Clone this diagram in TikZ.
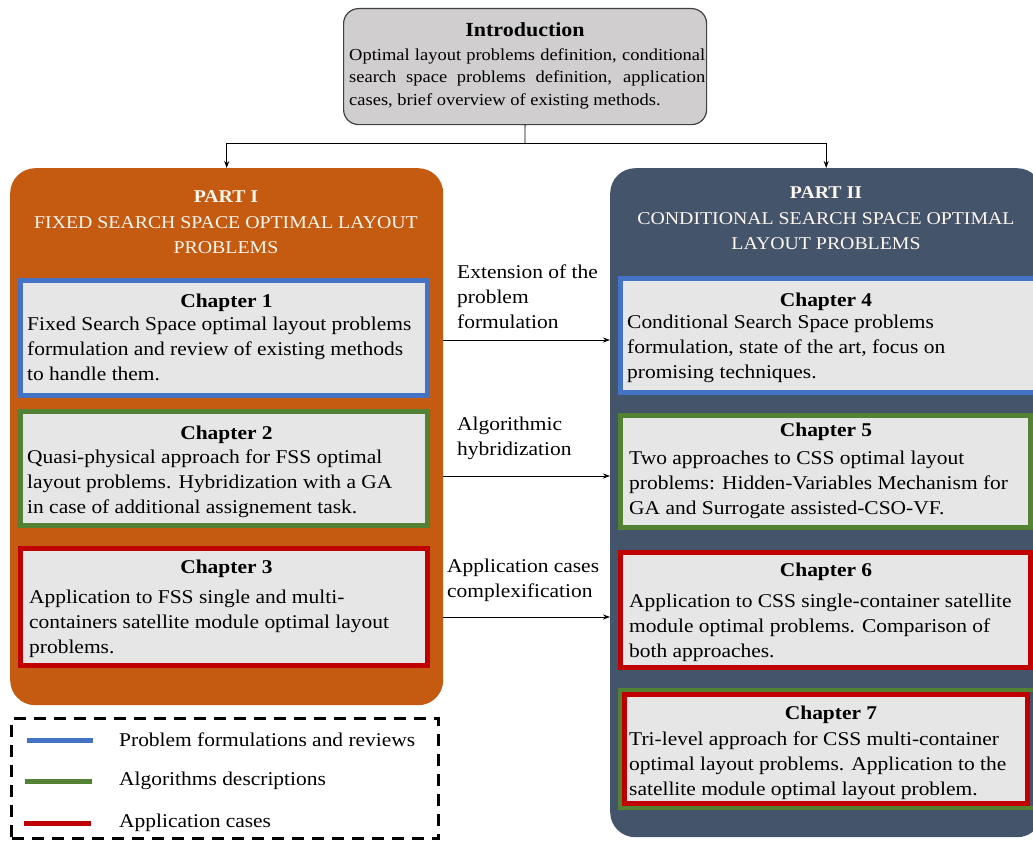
\documentclass[tikz,border=0pt]{standalone}
\usepackage{fontspec}
\setmainfont{Liberation Serif}[FakeStretch=1.1]
\usetikzlibrary{arrows.meta}
\definecolor{partorange}{HTML}{C55A11}
\definecolor{partslate}{HTML}{44546A}
\definecolor{cblue}{HTML}{4472C4}
\definecolor{cgreen}{HTML}{548235}
\definecolor{cred}{HTML}{C00000}
\definecolor{chapfill}{HTML}{E7E6E6}
\definecolor{introfill}{HTML}{D0CECE}
\definecolor{introline}{HTML}{404040}
\definecolor{titlewhite}{HTML}{FFF8F0}
\newcommand\bodyfs{\fontsize{19.5}{25}\selectfont}
\newcommand\introfs{\fontsize{16.8}{22.5}\selectfont}
\newcommand\partfs{\fontsize{18}{25}\selectfont}
\begin{document}
\begin{tikzpicture}[x=1pt,y=-1pt,
  partbox/.style={anchor=north west,rounded corners=25pt,inner sep=0pt,draw=none},
  chapbox/.style={anchor=north west,fill=chapfill,line width=5pt,inner sep=0pt},
  chaptitle/.style={anchor=base,font=\bodyfs\bfseries,inner sep=0pt},
  chaptext/.style={anchor=west,align=left,font=\bodyfs,inner sep=0pt},
  parttitle/.style={anchor=base,align=center,font=\partfs,text=titlewhite,inner sep=0pt},
  arrlabel/.style={anchor=west,align=left,font=\bodyfs,inner sep=0pt},
  arr/.style={-{Stealth[length=7pt,width=5pt]},line width=0.8pt},
  legline/.style={line width=5pt},
  legtext/.style={anchor=west,font=\bodyfs,inner sep=0pt}]
\useasboundingbox (0,0) rectangle (1033,843);
\clip (0,0) rectangle (1033,843);

% Introduction
\node[anchor=north west,fill=introfill,draw=introline,line width=1.2pt,rounded corners=15pt,
  minimum width=363pt,minimum height=116pt,inner sep=0pt] (intro) at (343,8) {};
\node[anchor=base,font=\fontsize{20}{24}\selectfont\bfseries,inner sep=0pt] (introtitle) at (525,37) {Introduction};
\node[anchor=west,align=left,font=\introfs,inner sep=0pt] (introtext) at (349,78.5)
  {\makebox[356pt][s]{Optimal layout problems definition, conditional}\\
   \makebox[356pt][s]{search space problems definition, application}\\
   cases, brief overview of existing methods.};

% Parts
\node[partbox,fill=partorange,minimum width=433pt,minimum height=537pt] (p1) at (10,168) {};
\node[partbox,fill=partslate,minimum width=432pt,minimum height=669pt] (p2) at (610,168) {};

\node[anchor=base,font=\partfs\bfseries,text=titlewhite,inner sep=0pt] (p1head) at (226,202) {PART I};
\node[parttitle] (p1name) at (226,228) {FIXED SEARCH SPACE OPTIMAL LAYOUT};
\node[parttitle] (p1name2) at (226,253) {PROBLEMS};
\node[anchor=base,font=\partfs\bfseries,text=titlewhite,inner sep=0pt] (p2head) at (826,198) {PART II};
\node[parttitle] (p2name) at (826,224) {CONDITIONAL SEARCH SPACE OPTIMAL};
\node[parttitle] (p2name2) at (826,249) {LAYOUT PROBLEMS};

% Intro connectors
\coordinate (bar) at (525,143);
\draw[line width=0.8pt] (intro.south) -- (bar);
\draw[arr] (bar) -| (p1.north);
\draw[arr] (bar) -| (p2.north);

% Left chapters (positions are outer edges of the borders)
\node[chapbox,draw=cblue,minimum width=407pt,minimum height=115pt] (c1) at (18,278) {};
\node[chaptitle] (c1t) at (226.5,307) {Chapter 1};
\node[chaptext] (c1x) at (27,349) {Fixed Search Space optimal layout problems\\formulation and review of existing methods\\to handle them.};

\node[chapbox,draw=cgreen,minimum width=407pt,minimum height=114pt] (c2) at (18,409) {};
\node[chaptitle] (c2t) at (226.5,439) {Chapter 2};
\node[chaptext] (c2x) at (27,484) {Quasi-physical approach for FSS optimal\\layout problems. Hybridization with a GA\\in case of additional assignement task.};

\node[chapbox,draw=cred,minimum width=407pt,minimum height=117pt] (c3) at (18,546) {};
\node[chaptitle] (c3t) at (226.5,573) {Chapter 3};
\node[chaptext] (c3x) at (29,624) {Application to FSS single and multi-\\containers satellite module optimal layout\\problems.};

% Right chapters
\node[chapbox,draw=cblue,minimum width=415pt,minimum height=114pt] (c4) at (618,276) {};
\node[chaptitle] (c4t) at (826,306) {Chapter 4};
\node[chaptext] (c4x) at (627,348.5) {Conditional Search Space problems\\formulation, state of the art, focus on\\promising techniques.};

\node[chapbox,draw=cgreen,minimum width=410pt,minimum height=112pt] (c5) at (618,413) {};
\node[chaptitle] (c5t) at (826,436) {Chapter 5};
\node[chaptext] (c5x) at (629,484.5) {Two approaches to CSS optimal layout\\problems: Hidden-Variables Mechanism for\\GA and Surrogate assisted-CSO-VF.};

\node[chapbox,draw=cred,minimum width=410pt,minimum height=115pt] (c6) at (618,550) {};
\node[chaptitle] (c6t) at (826,576) {Chapter 6};
\node[chaptext] (c6x) at (629,628) {Application to CSS single-container satellite\\module optimal problems. Comparison of\\both approaches.};

\node[anchor=north west,draw=cgreen,line width=4pt,minimum width=416pt,minimum height=118pt,inner sep=0pt] (c7o) at (618,688) {};
\node[chapbox,draw=cred,minimum width=403pt,minimum height=109pt] (c7) at (622,692) {};
\node[chaptitle] (c7t) at (831,719) {Chapter 7};
\node[chaptext] (c7x) at (629,765.5) {Tri-level approach for CSS multi-container\\optimal layout problems. Application to the\\satellite module optimal layout problem.};

% Cross arrows
\coordinate (a1) at (0,340);
\coordinate (a2) at (0,476);
\coordinate (a3) at (0,617);
\draw[arr] (p1.east |- a1) -- (p2.west |- a1);
\draw[arr] (p1.east |- a2) -- (p2.west |- a2);
\draw[arr] (p1.east |- a3) -- (p2.west |- a3);
\node[arrlabel] (l1) at (457,296.5) {Extension of the\\problem\\formulation};
\node[arrlabel] (l2) at (457,438.5) {Algorithmic\\hybridization};
\node[arrlabel] (l3) at (447,580.5) {Application cases\\complexification};

% Legend
\node[anchor=north west,draw=black,line width=3pt,dash pattern=on 12pt off 8pt,
  minimum width=427pt,minimum height=120pt,inner sep=0pt] (leg) at (10,717) {};
\coordinate (g1a) at (27,740); \coordinate (g1b) at (93,740);
\coordinate (g2a) at (25,781); \coordinate (g2b) at (92,781);
\coordinate (g3a) at (24,823); \coordinate (g3b) at (91,823);
\draw[legline,cblue] (g1a) -- (g1b);
\draw[legline,cgreen] (g2a) -- (g2b);
\draw[legline,cred] (g3a) -- (g3b);
\node[legtext] (t1) at (119,740) {Problem formulations and reviews};
\node[legtext] (t2) at (119,781) {Algorithms descriptions};
\node[legtext] (t3) at (119,823) {Application cases};
\end{tikzpicture}
\end{document}
